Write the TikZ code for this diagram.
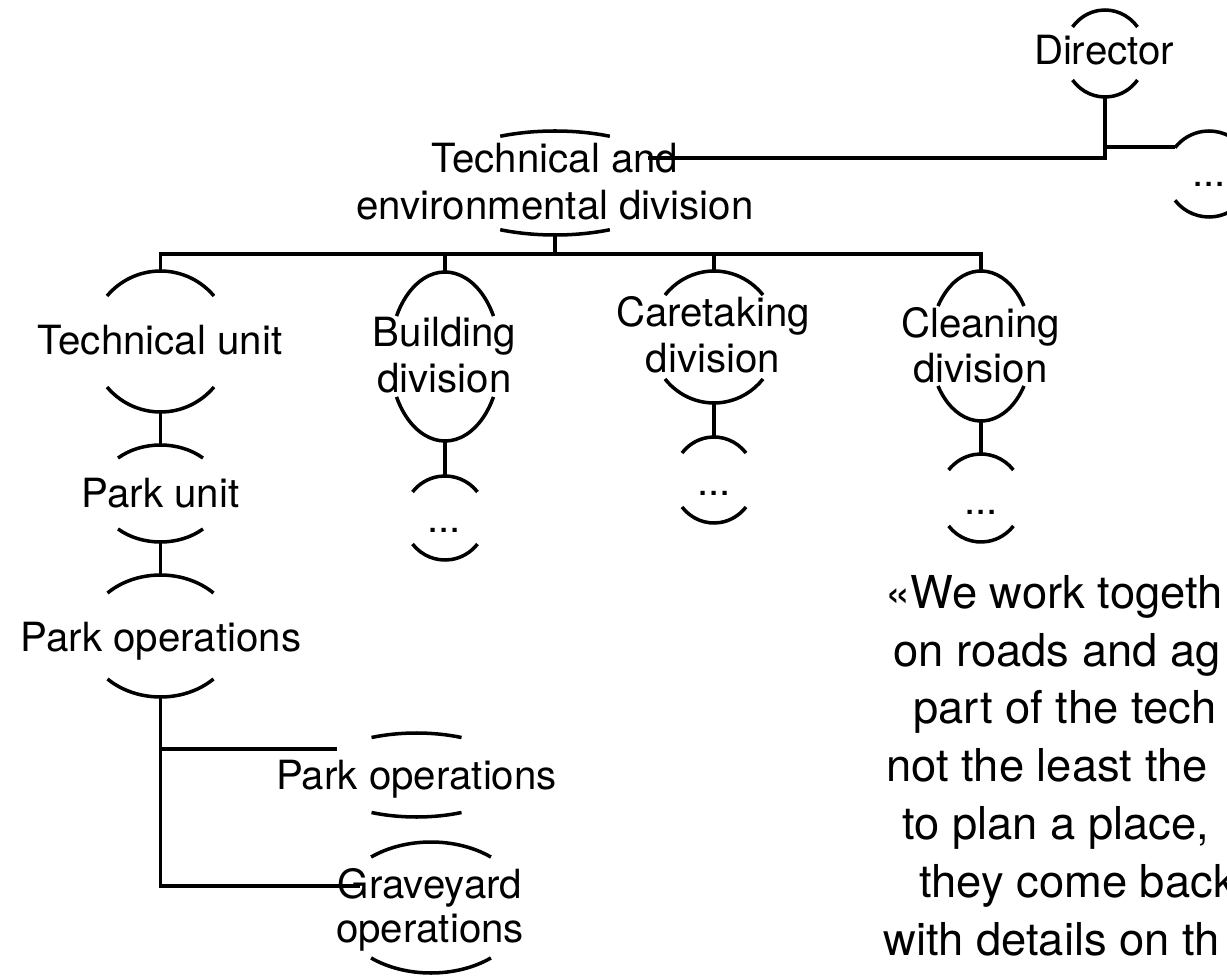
\documentclass[tikz,border=0pt]{standalone}
\usepackage{fontspec}
\setmainfont{TeX Gyre Heros}
% rimnode{name}{cx}{cy}{x radius}{y radius}{angle}:
% the upper and lower rims of an oval, with anchors name-t and name-b
\newcommand\rimnode[6]{%
  \draw[rim] ([shift={(#6:#4 and #5)}]#2,#3)
    arc[start angle=#6, end angle=180-#6, x radius=#4, y radius=#5];
  \draw[rim] ([shift={(180+#6:#4 and #5)}]#2,#3)
    arc[start angle=180+#6, end angle=360-#6, x radius=#4, y radius=#5];
  \coordinate (#1-t) at (#2,#3+#5);
  \coordinate (#1-b) at (#2,#3-#5);
}
\begin{document}
\begin{tikzpicture}[x=0.02cm,y=0.02cm,
  conn/.style={line width=2pt},
  rim/.style={line width=2pt},
  lbl/.style={inner sep=0pt, anchor=base, font=\fontsize{22.9}{27}\selectfont},
  quote/.style={inner sep=0pt, anchor=base west, font=\fontsize{25.8}{33}\selectfont}]
\useasboundingbox (0,0) rectangle (1227,-976);
\clip (0,0) rectangle (1227,-976);

% oval rims
\rimnode{dir}{1105}{-53.5}{41}{43.5}{37.6}
\rimnode{more}{1209}{-174}{43}{43}{37.8}
\rimnode{ted}{555}{-183}{125}{52}{64}
\rimnode{tu}{160.5}{-341.5}{70}{70.5}{40.2}
\rimnode{pu}{160.5}{-493.5}{62.3}{48.5}{47}
\rimnode{po}{160.5}{-636}{74.7}{61}{44.8}
\rimnode{pa}{416.5}{-775}{99.8}{42}{63.2}
\rimnode{gy}{431}{-907.5}{94}{65.5}{50.4}
\rimnode{bd}{445}{-356.5}{55.2}{84.5}{28.6}
\rimnode{bdx}{445}{-518}{41.4}{42}{38.3}
\rimnode{cd}{714}{-337}{63.5}{66}{39.5}
\rimnode{cdx}{714}{-480}{41.1}{43}{38.9}
\rimnode{cl}{981}{-346}{50.8}{75}{32.2}
\rimnode{clx}{981}{-498}{42}{44}{39.5}

% labels
\node[lbl] (dir-txt) at (1104,-65) {Director};
\node[lbl] (more-txt) at (1209,-187) {...};
\node[lbl] (ted-l1) at (555,-173) {Technical and};
\node[lbl] (ted-l2) at (555,-220) {environmental division};
\node[lbl] (tu-txt) at (160,-355) {Technical unit};
\node[lbl] (pu-txt) at (160.5,-507) {Park unit};
\node[lbl] (po-txt) at (161,-651) {Park operations};
\node[lbl] (pa-txt) at (416.5,-789) {Park operations};
\node[lbl] (gy-l1) at (430,-898) {Graveyard};
\node[lbl] (gy-l2) at (430,-942) {operations};
\node[lbl] (bd-l1) at (444.5,-347) {Building};
\node[lbl] (bd-l2) at (444.5,-393) {division};
\node[lbl] (bdx-txt) at (444,-532) {...};
\node[lbl] (cd-l1) at (713,-327) {Caretaking};
\node[lbl] (cd-l2) at (713,-373) {division};
\node[lbl] (cdx-txt) at (714,-495) {...};
\node[lbl] (cl-l1) at (980.5,-338) {Cleaning};
\node[lbl] (cl-l2) at (980.5,-382) {division};
\node[lbl] (clx-txt) at (981,-514) {...};

% connectors
\coordinate (ted-in) at (648,-158);
\coordinate (more-in) at (1175,-147);
\draw[conn] (dir-b) |- (ted-in);
\draw[conn] (dir-b |- more-in) -- (more-in);
\coordinate (bus) at (555,-254);
\draw[conn] (ted-b) -- (bus);
\draw[conn] (tu-t) |- (bus) -| (cl-t);
\draw[conn] (bd-t) -- (bd-t |- bus);
\draw[conn] (cd-t) -- (cd-t |- bus);
\draw[conn] (tu-b) -- (pu-t);
\draw[conn] (pu-b) -- (po-t);
\coordinate (pa-in) at (337,-749);
\coordinate (gy-in) at (360,-886);
\draw[conn] (po-b) |- (gy-in);
\draw[conn] (po-b |- pa-in) -- (pa-in);
\draw[conn] (bd-b) -- (bdx-t);
\draw[conn] (cd-b) -- (cdx-t);
\draw[conn] (cl-b) -- (clx-t);

% quotation
\node[quote] (q1) at (885,-608) {«We work togeth};
\node[quote] (q2) at (893,-666) {on roads and ag};
\node[quote] (q3) at (913,-723) {part of the tech};
\node[quote] (q4) at (886,-781) {not the least the};
\node[quote] (q5) at (902,-839) {to plan a place,};
\node[quote] (q6) at (919,-897) {they come back};
\node[quote] (q7) at (883,-955) {with details on th};
\end{tikzpicture}
\end{document}
